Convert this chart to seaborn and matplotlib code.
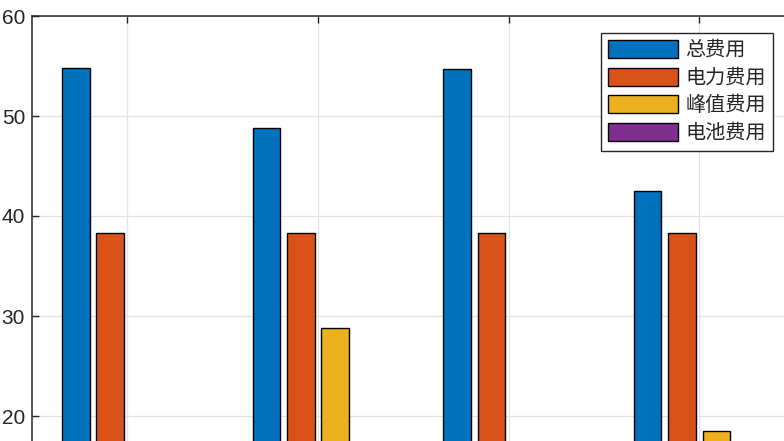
import numpy as np
import pandas as pd
import matplotlib
matplotlib.use("Agg")
import matplotlib.pyplot as plt
import seaborn as sns

# ---- data ----
scenarios = ["1", "2", "3", "4"]
series_names = ["总费用", "电力费用", "峰值费用", "电池费用"]
total_cost = [54.8, 48.8, 54.7, 42.5]
power_cost = [38.3, 38.3, 38.3, 38.3]
peak_cost = [16.5, 28.8, 16.4, 18.5]
battery_cost = [0.0, 5.0, 0.0, 4.0]
yticks = [20, 30, 40, 50, 60]

colors = ["#0072BD", "#D95319", "#EDB120", "#7E2F8E"]

df = pd.DataFrame({
    "方案": scenarios * 4,
    "费用": total_cost + power_cost + peak_cost + battery_cost,
    "类型": [s for s in series_names for _ in scenarios],
})

sns.set_theme(style="white")
plt.rcParams["font.family"] = ["Liberation Sans", "Noto Sans CJK SC", "DejaVu Sans"]

W, H = 784, 441
fig = plt.figure(figsize=(W / 100, H / 100), dpi=100)
# axes extends beyond the canvas (reference is a crop)
left_px, top_px = 32, 16
width_px = 762.5
height_px = 600
ax = fig.add_axes([left_px / W, 1 - (top_px + height_px) / H, width_px / W, height_px / H])

sns.barplot(data=df, x="方案", y="费用", hue="类型", palette=colors,
            hue_order=series_names, order=scenarios,
            width=0.72, gap=0.2, edgecolor="black", linewidth=1.0,
            saturation=1, ax=ax, errorbar=None)

ax.set_xlim(-0.5, 3.5)
ax.set_ylim(0, 60)
ax.set_yticks(yticks)
ax.set_xlabel("")
ax.set_ylabel("")
ax.grid(True, color="#e3e3e3", linewidth=0.9)
ax.set_axisbelow(True)
for s in ax.spines.values():
    s.set_color("#262626")
    s.set_linewidth(1.1)
ax.tick_params(axis="both", direction="in", length=5, width=1.0, color="#262626",
               top=True, bottom=True, left=True, right=True,
               labelsize=15, labelcolor="#262626", pad=5)
ax.tick_params(axis="x", labelbottom=False)

h, l = ax.get_legend_handles_labels()
if ax.get_legend() is not None:
    ax.get_legend().remove()
leg = fig.legend(h, l, loc="upper left",
                 bbox_to_anchor=(601 / W, 1 - 33 / H),
                 bbox_transform=fig.transFigure, borderaxespad=0,
                 prop={"family": ["Noto Sans CJK SC"], "size": 14.5},
                 handlelength=3.45, handleheight=1.0, handletextpad=0.4,
                 labelspacing=0.33, borderpad=0.35, fancybox=False,
                 framealpha=1, edgecolor="#262626")
leg.get_frame().set_linewidth(1.0)

fig.savefig("out.png", dpi=100)
